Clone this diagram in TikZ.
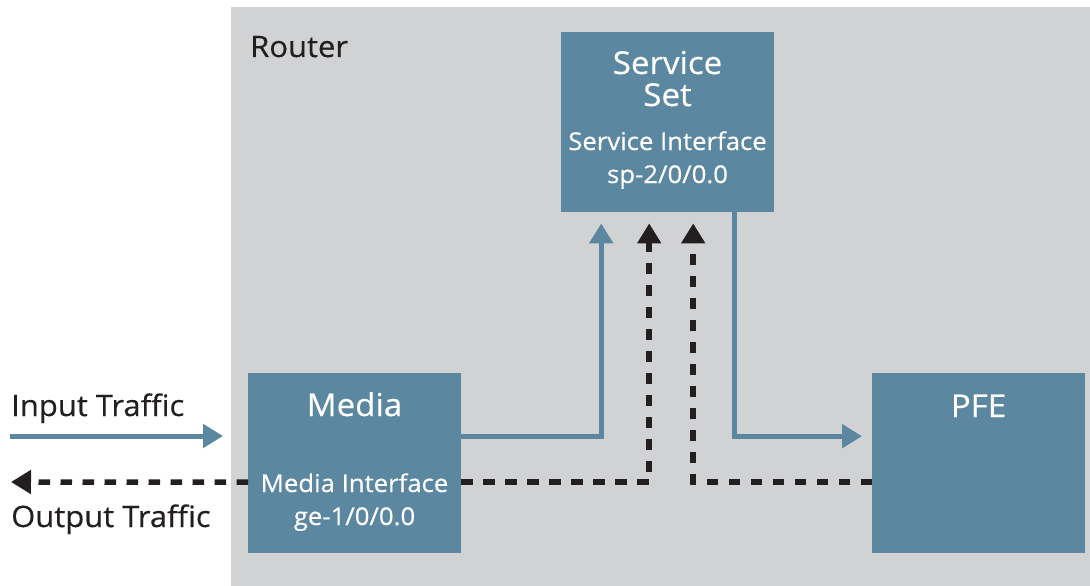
\documentclass[tikz,border=0pt]{standalone}
\usepackage{fontspec}
\setmainfont[FakeStretch=1.05,FakeBold=0.4]{Open Sans}
\usetikzlibrary{arrows.meta}
\definecolor{routergray}{HTML}{D1D2D4}
\definecolor{boxblue}{HTML}{5B88A0}
\definecolor{ink}{HTML}{231F20}
\begin{document}
\begin{tikzpicture}[x=1pt,y=-1pt,
  unit/.style={fill=boxblue, draw=none, minimum width=213pt, minimum height=180pt,
               inner sep=0pt, anchor=north west},
  boxtitle/.style={text=white, font=\fontsize{31.5}{32}\selectfont, anchor=base, inner sep=0pt},
  boxsub/.style={text=white, font=\fontsize{24.5}{25}\selectfont, anchor=base, inner sep=0pt},
  plain/.style={text=ink, font=\fontsize{29.5}{30}\selectfont, anchor=base west, inner sep=0pt},
  flow/.style={draw=boxblue, line width=5pt, -{Triangle[length=20pt,width=23pt]}},
  back/.style={draw=ink, line width=5.5pt, dash pattern=on 11.5pt off 10.5pt,
               -{Triangle[length=20pt,width=23pt]}},
]
\useasboundingbox (0,0) rectangle (1090,586);
% router enclosure
\fill[routergray] (231,7) rectangle (1090,586);
\node[plain] (router) at (250,57) {Router};

% functional blocks
\node[unit] (media) at (248,373) {};
\node[unit] (service) at (561,32) {};
\node[unit] (pfe) at (872,373) {};

\node[boxtitle] (mediat) at (354.5,416) {Media};
\node[boxsub] (mediai) at (354.5,492) {Media Interface};
\node[boxsub] (mediaa) at (354.5,525) {ge-1/0/0.0};

\node[boxtitle] (servt1) at (667.5,74) {Service};
\node[boxtitle] (servt2) at (667.5,106) {Set};
\node[boxsub] (servi) at (667.5,150) {Service Interface};
\node[boxsub] (serva) at (667.5,183) {sp-2/0/0.0};

\node[boxtitle] (pfet) at (978.5,417) {PFE};

% traffic labels
\node[plain] (inlabel) at (11,416) {Input Traffic};
\node[plain] (outlabel) at (11,527) {Output Traffic};

% input traffic path
\coordinate (inStart) at (10,436);
\coordinate (inEnd) at (223,436);
\draw[flow] (inStart) -- (inEnd);
\draw[flow, shorten >=11pt] ([yshift=27pt]media.east) -| ([xshift=-66.5pt]service.south);
\draw[flow, shorten >=10pt] ([xshift=66.5pt]service.south) |- ([yshift=27pt]pfe.west);

% output traffic path
\coordinate (outEnd) at (11,482);
\draw[back, shorten >=11pt] ([yshift=-19pt]media.east) -| ([xshift=-18.5pt]service.south);
\draw[back, shorten >=11pt] ([yshift=-19pt]pfe.west) -| ([xshift=25.5pt]service.south);
\draw[back] ([yshift=-19pt]media.west) -- (outEnd);
\end{tikzpicture}
\end{document}
